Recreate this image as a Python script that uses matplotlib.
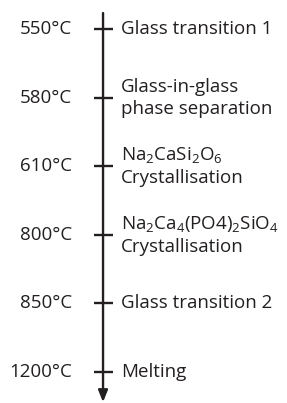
import matplotlib
matplotlib.use("Agg")
import matplotlib.pyplot as plt

temps = ["550°C", "580°C", "610°C", "800°C", "850°C", "1200°C"]
events = [
    "Glass transition 1",
    "Glass-in-glass\nphase separation",
    "$\\mathregular{Na_2CaSi_2O_6}$\nCrystallisation",
    "$\\mathregular{Na_2Ca_4(PO4)_2SiO_4}$\nCrystallisation",
    "Glass transition 2",
    "Melting",
]

plt.rcParams['font.family'] = ['Open Sans', 'DejaVu Sans']
ink = '#231f20'

fig = plt.figure(figsize=(2.87, 4.03), dpi=100)
ax = fig.add_axes([0, 0, 1, 1])
ax.set_xlim(0, 1)
ax.set_ylim(5.452, -0.423)
ax.axis('off')

x_line = 0.359
pos = list(range(len(temps)))

# main axis with arrow
ax.annotate('', xy=(x_line, 5.44), xytext=(x_line, -0.233),
            arrowprops=dict(arrowstyle='-|>,head_length=0.5,head_width=0.2',
                            color=ink, lw=1.7,
                            mutation_scale=14, shrinkA=0, shrinkB=0))
ax.hlines(pos, x_line - 0.033, x_line + 0.033, color=ink, lw=1.7)

for y, t, e in zip(pos, temps, events):
    ax.text(0.251, y, t, ha='right', va='center', fontsize=13.5, color=ink)
    ax.text(0.422, y, e, ha='left', va='center', fontsize=13.5, color=ink,
            linespacing=1.3)

fig.savefig('out.png', dpi=100)
